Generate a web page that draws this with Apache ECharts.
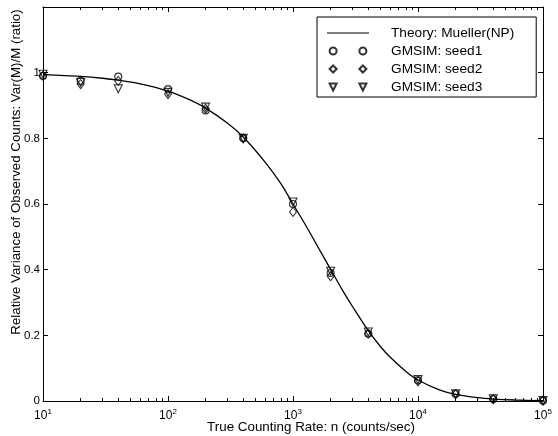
<!DOCTYPE html>
<html>
<head>
<meta charset="utf-8">
<script src="https://cdn.jsdelivr.net/npm/echarts@6/dist/echarts.min.js"></script>
<style>
  html, body { margin: 0; padding: 0; background: #fff; }
  #chart { width: 558px; height: 436px; }
</style>
</head>
<body>
<div id="chart"></div>
<script>
// theory curve
const theoryRate = [10, 15, 20, 30, 40, 60, 100, 150, 200, 300, 400, 600, 800, 1000, 1300, 1600,
  2000, 2500, 3000, 4000, 5000, 6000, 8000, 10000, 15000, 20000, 30000, 40000, 60000, 100000];
const theoryVar = [0.994, 0.991, 0.989, 0.983, 0.977, 0.966, 0.944, 0.917, 0.892, 0.846, 0.804, 0.727,
  0.662, 0.600, 0.527, 0.466, 0.401, 0.336, 0.287, 0.214, 0.166, 0.133, 0.090, 0.064, 0.033,
  0.020, 0.010, 0.006, 0.003, 0.001];

// simulation points
const simRate = [10, 20, 40, 100, 200, 400, 1000, 2000, 4000, 10000, 20000, 40000, 100000];
const seed1 = [0.990, 0.975, 0.988, 0.950, 0.885, 0.800, 0.600, 0.390, 0.205, 0.063, 0.022, 0.006, 0.001];
const seed2 = [0.990, 0.965, 0.975, 0.935, 0.890, 0.800, 0.576, 0.380, 0.205, 0.060, 0.020, 0.005, 0.001];
const seed3 = [0.995, 0.970, 0.951, 0.940, 0.895, 0.800, 0.606, 0.395, 0.210, 0.065, 0.022, 0.007, 0.001];

const seriesNames = ['Theory: Mueller(NP)', 'GMSIM: seed1', 'GMSIM: seed2', 'GMSIM: seed3'];
const minorTicks = [20, 30, 40, 50, 60, 70, 80, 90, 200, 300, 400, 500, 600, 700, 800, 900,
  2000, 3000, 4000, 5000, 6000, 7000, 8000, 9000, 20000, 30000, 40000, 50000, 60000, 70000, 80000, 90000];

const pair = (xs, ys) => xs.map((x, i) => [x, ys[i]]);

const chart = echarts.init(document.getElementById('chart'));
const font = 'Liberation Sans, Arial, sans-serif';
const black = '#000';

const xBase = {
  type: 'log', min: 10, max: 100000, logBase: 10,
  splitLine: { show: false },
  axisLine: { show: false },
  axisLabel: { show: false },
  axisTick: { inside: true, length: 5, lineStyle: { color: black } }
};

const option = {
  backgroundColor: '#fff',
  animation: false,
  textStyle: { fontFamily: font, color: black },
  grid: { left: 43, right: 15, top: 7, bottom: 35, outerBoundsMode: 'none', containLabel: false },
  legend: {
    orient: 'vertical',
    left: 317, top: 17,
    backgroundColor: '#fff',
    borderColor: black, borderWidth: 1, borderRadius: 0,
    padding: [9, 22, 3, 10],
    itemGap: 4,
    itemWidth: 42, itemHeight: 7,
    textStyle: { fontFamily: font, fontSize: 13.7, color: black, lineHeight: 14, padding: [0, 0, 0, 17] },
    data: [
      { name: seriesNames[0], icon: 'path://M0,3.5L42,3.5L42,4.5L0,4.5Z' },
      { name: seriesNames[1], icon: 'path://M0,4a4,4 0 1,0 8,0a4,4 0 1,0 -8,0M34,4a4,4 0 1,0 8,0a4,4 0 1,0 -8,0' },
      { name: seriesNames[2], icon: 'path://M4,0L8,4L4,8L0,4ZM38,0L42,4L38,8L34,4Z' },
      { name: seriesNames[3], icon: 'path://M0,0L8,0L4,8ZM34,0L42,0L38,8Z' }
    ]
  },
  xAxis: [
    Object.assign({}, xBase, {
      position: 'bottom',
      axisLine: { show: true, lineStyle: { color: black, width: 1 } },
      axisLabel: {
        show: true, margin: 7,
        formatter: v => '{b|10}{s|' + Math.round(Math.log10(v)) + '}',
        rich: {
          b: { fontFamily: font, fontSize: 12, color: black },
          s: { fontFamily: font, fontSize: 8, color: black, verticalAlign: 'top', padding: [0, 0, 7, 0] }
        }
      },
      name: 'True Counting Rate: n (counts/sec)',
      nameLocation: 'middle', nameGap: 20, nameMoveOverlap: false,
      nameTextStyle: { fontFamily: font, fontSize: 13.4, color: black, padding: [0, 0, 0, 36] }
    }),
    Object.assign({}, xBase, {
      position: 'bottom',
      axisTick: { inside: true, length: 3, lineStyle: { color: black }, customValues: minorTicks }
    }),
    Object.assign({}, xBase, {
      position: 'top',
      axisLine: { show: true, lineStyle: { color: black, width: 1 } }
    }),
    Object.assign({}, xBase, {
      position: 'top',
      axisTick: { inside: true, length: 3, lineStyle: { color: black }, customValues: minorTicks }
    })
  ],
  yAxis: [
    {
      type: 'value', min: 0, max: 1.2, interval: 0.2, position: 'left',
      splitLine: { show: false },
      axisLine: { show: true, lineStyle: { color: black, width: 1 } },
      axisTick: { inside: true, length: 5, lineStyle: { color: black } },
      axisLabel: {
        margin: 3, fontFamily: font, fontSize: 11.5, color: black,
        formatter: v => (v > 1.05 ? '' : String(Math.round(v * 10) / 10))
      },
      name: 'Relative Variance of Observed Counts: Var(M)/M (ratio)',
      nameLocation: 'middle', nameGap: 20, nameMoveOverlap: false,
      nameTextStyle: { fontFamily: font, fontSize: 13.3, color: black, padding: [0, 0, 0, 64] }
    },
    {
      type: 'value', min: 0, max: 1.2, interval: 0.2, position: 'right',
      splitLine: { show: false },
      axisLine: { show: true, lineStyle: { color: black, width: 1 } },
      axisTick: { inside: true, length: 5, lineStyle: { color: black } },
      axisLabel: { show: false }
    }
  ],
  series: [
    {
      name: seriesNames[0], type: 'line', data: pair(theoryRate, theoryVar),
      smooth: 0.3, showSymbol: false, symbol: 'none',
      lineStyle: { color: black, width: 1.3 }, itemStyle: { color: black }, z: 2
    },
    {
      name: seriesNames[1], type: 'scatter', data: pair(simRate, seed1),
      symbol: 'circle', symbolSize: 7,
      itemStyle: { color: 'rgba(255,255,255,0)', borderColor: black, borderWidth: 1.1 }, z: 3
    },
    {
      name: seriesNames[2], type: 'scatter', data: pair(simRate, seed2),
      symbol: 'diamond', symbolSize: [7, 9],
      itemStyle: { color: 'rgba(255,255,255,0)', borderColor: black, borderWidth: 1.1 }, z: 3
    },
    {
      name: seriesNames[3], type: 'scatter', data: pair(simRate, seed3),
      symbol: 'triangle', symbolRotate: 180, symbolSize: 8,
      itemStyle: { color: 'rgba(255,255,255,0)', borderColor: black, borderWidth: 1.1 }, z: 3
    }
  ]
};

chart.setOption(option);
</script>
</body>
</html>
